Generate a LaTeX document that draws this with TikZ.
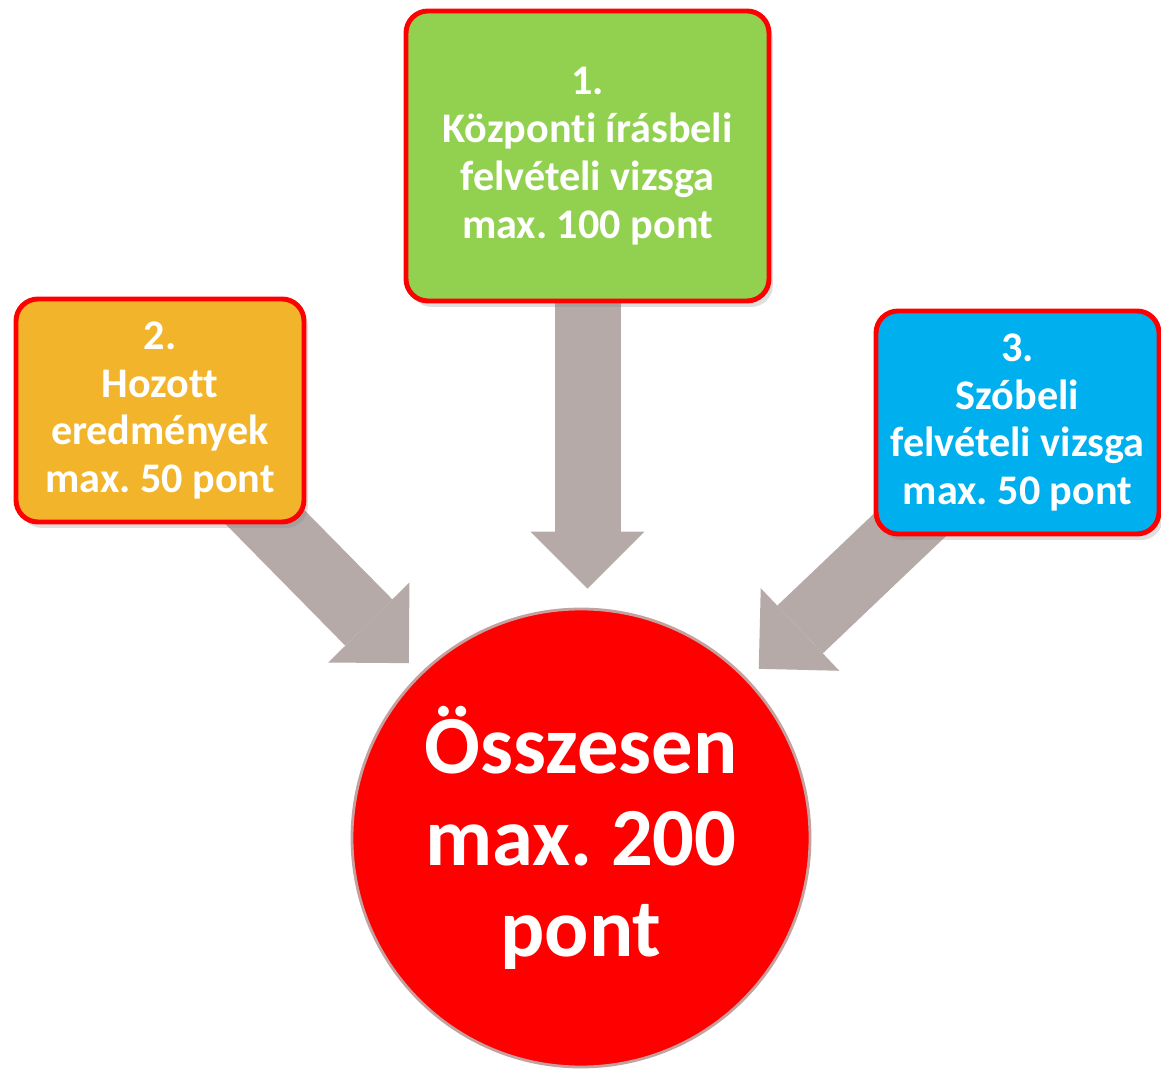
\documentclass[tikz,border=0pt]{standalone}
\usepackage{fontspec}
\setmainfont{Carlito}[Ligatures=NoCommon]
\usetikzlibrary{arrows.meta,shadows,backgrounds}
\definecolor{zold}{HTML}{92D050}
\definecolor{narancs}{HTML}{F2B42A}
\definecolor{kek}{HTML}{00B0EE}
\definecolor{piros}{HTML}{FF0000}
\definecolor{nyilszin}{HTML}{B5AAA8}
\frenchspacing
\begin{document}
\begin{tikzpicture}[
  doboz/.style={draw=piros, line width=1.4pt, rounded corners=2.2mm, text=white,
    align=center, inner sep=0pt, font=\fontsize{12}{13.6}\selectfont\bfseries,
    drop shadow={opacity=0.25, shadow xshift=0.4mm, shadow yshift=-0.6mm}},
  nyil/.style={draw=nyilszin, line width=6.6mm,
    -{Triangle[width=11.4mm, length=5.7mm, line width=0pt]}, shorten >=1.5mm},
]

\useasboundingbox (0,0) rectangle (11.61,10.77);

% Pontok
\node[doboz, fill=zold, minimum width=3.63cm, minimum height=2.90cm] (kozponti) at (5.875, 9.21)
  {1.\\Központi írásbeli\\felvételi vizsga\\max. 100 pont};
\node[doboz, fill=narancs, minimum width=2.88cm, minimum height=2.23cm] (hozott) at (1.60, 6.665)
  {2.\\Hozott\\eredmények\\max. 50 pont};
\node[doboz, fill=kek, minimum width=2.83cm, minimum height=2.23cm] (szobeli) at (10.175, 6.545)
  {3.\\Szóbeli\\felvételi vizsga\\max. 50 pont};

% Osszesen
\node[circle, fill=piros, draw=piros!25!gray!60, line width=0.8pt, minimum size=4.58cm,
  text=white, align=center, font=\fontsize{23.5}{26}\selectfont\bfseries] (osszesen) at (5.81, 2.39)
  {Összesen\\max. 200\\pont};

% Nyilak
\begin{scope}[on background layer]
\fill[white] (0,0) rectangle (11.61,10.77);
\draw[nyil] (hozott.center) -- (osszesen);
\draw[nyil] (szobeli.center) -- (osszesen);
\draw[nyil, shorten >=1.9mm] (kozponti.center) -- (kozponti.center |- osszesen.north);
\end{scope}

\end{tikzpicture}
\end{document}
